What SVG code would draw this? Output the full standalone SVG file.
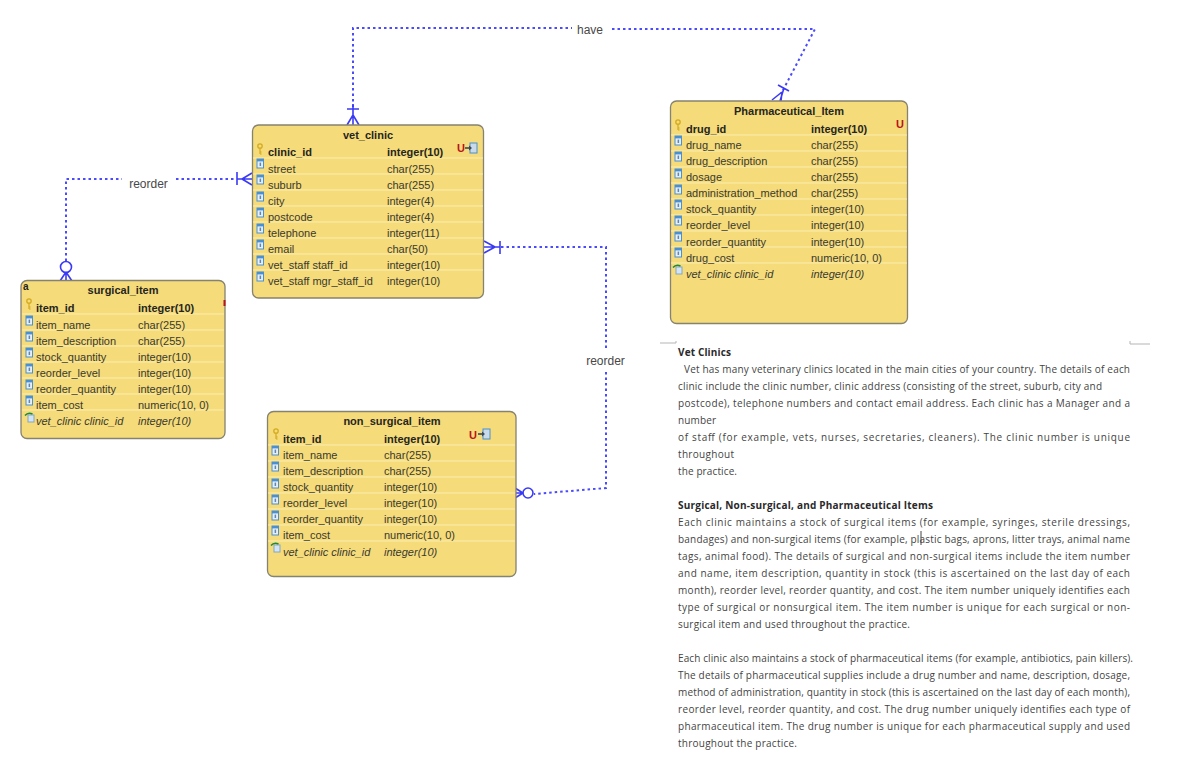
<svg xmlns="http://www.w3.org/2000/svg" width="1197" height="771" viewBox="0 0 1197 771">
<style>
text{font-family:"Liberation Sans",Arial,sans-serif;font-size:11px;fill:#3a3a30}
.box{fill:#f5db7a;stroke:#85826f;stroke-width:1.3}
.sep{stroke:#fbeeb0;stroke-width:1;fill:none}
.t{font-weight:bold;text-anchor:middle;fill:#26261e}
.b{font-weight:bold;fill:#26261e}
.i{font-style:italic}
.u{font-weight:bold;font-size:11px;fill:#b8141c}
.rel{fill:none;stroke:#4a4aff;stroke-width:2;stroke-dasharray:2.5 3}
.end{fill:none;stroke:#3a3af5;stroke-width:1.6}
.lab{font-size:12px;fill:#484848;text-anchor:middle}
.doc{font-family:"Open Sans","Noto Sans",sans-serif;font-size:10px;fill:#444}
.dh{font-family:"Open Sans","Noto Sans",sans-serif;font-size:10px;font-weight:bold;fill:#2a2a2a}
</style>
<defs>
<g id="col"><rect x="0" y="0" width="6.500" height="9" fill="#e6eef6" stroke="#4a8fd0" stroke-width="1"/><rect x="0" y="0" width="6.500" height="2.400" fill="#4a8fd0"/><rect x="2.600" y="3.600" width="1.500" height="3.400" fill="#5c86b4"/></g>
<g id="fk"><rect x="2" y="2" width="6" height="7" fill="#d5e4f2" stroke="#7fa8cc" stroke-width="1"/><path d="M-1 2.500Q2 -1 6.500 1" fill="none" stroke="#1f8a3a" stroke-width="1.500"/></g>
<g id="key"><circle cx="0" cy="0" r="2.200" fill="none" stroke="#d4ab1e" stroke-width="1.300"/><path d="M0 2V8M0 6H1.600M0 8H1.600" fill="none" stroke="#d4ab1e" stroke-width="1.200"/></g>
<g id="exp"><path d="M-7 0H-1" stroke="#3a4a5a" stroke-width="1.600" fill="none"/><rect x="-2" y="-5" width="7" height="10" fill="#c9dbea" stroke="#4a90cc" stroke-width="1"/><path d="M-3 -2.500L0 0L-3 2.500Z" fill="#3a4a5a"/></g>
</defs>

<g id="connectors">
<path class="rel" d="M353 107V28H572"/>
<path class="rel" d="M612 29H815L781 94"/>
<path class="rel" d="M66 261V179H122"/>
<path class="rel" d="M176 179H236"/>
<path class="rel" d="M501 247H606V350"/>
<path class="rel" d="M606 372V488L534 494"/>
<path class="end" d="M347 109H359M353 104V125M353 115L347 125M353 115L359 125"/>
<path class="end" d="M237 172V185M237 179H252M242 179L252 173M242 179L252 185"/>
<path class="end" d="M500 241V254M484 247H500M495 247L484 241M495 247L484 253"/>
<circle class="end" cx="528" cy="493" r="5"/>
<path class="end" d="M523 493H516M523 493L515 488M523 493L515 498"/>
<circle class="end" cx="66" cy="267" r="5.500"/>
<path class="end" d="M66 272V281M66 272L60 281M66 272L72 281"/>
<path class="end" d="M778 85L789 91M784 88L780 101M782 92L772 100M782 92L781 101"/>
<text class="lab" x="590" y="34">have</text>
<text class="lab" x="148.500" y="188">reorder</text>
<text class="lab" x="605.500" y="365">reorder</text>
</g>

<g id="vet_clinic">
<rect class="box" x="252.500" y="125" width="231" height="173" rx="6"/>
<path class="sep" d="M253 158H483M253 174H483M253 190H483M253 206H483M253 222H483M253 238H483M253 254H483M253 270H483"/>
<text class="t" x="368" y="139">vet_clinic</text>
<use href="#key" x="260" y="146"/>
<text class="b" x="268" y="156">clinic_id</text><text class="b" x="387" y="156">integer(10)</text>
<text class="u" x="457" y="152">U</text><use href="#exp" x="472" y="148"/>
<use href="#col" x="257" y="159"/><text x="268" y="173">street</text><text x="387" y="173">char(255)</text>
<use href="#col" x="257" y="175"/><text x="268" y="189">suburb</text><text x="387" y="189">char(255)</text>
<use href="#col" x="257" y="192"/><text x="268" y="205">city</text><text x="387" y="205">integer(4)</text>
<use href="#col" x="257" y="208"/><text x="268" y="221">postcode</text><text x="387" y="221">integer(4)</text>
<use href="#col" x="257" y="224"/><text x="268" y="237">telephone</text><text x="387" y="237">integer(11)</text>
<use href="#col" x="257" y="240"/><text x="268" y="253">email</text><text x="387" y="253">char(50)</text>
<use href="#col" x="257" y="256"/><text x="268" y="269">vet_staff staff_id</text><text x="387" y="269">integer(10)</text>
<use href="#col" x="257" y="272"/><text x="268" y="285">vet_staff mgr_staff_id</text><text x="387" y="285">integer(10)</text>
</g>

<g id="surgical_item">
<rect class="box" x="21" y="280.500" width="204" height="158" rx="6"/>
<path class="sep" d="M22 314H224M22 330H224M22 346H224M22 362H224M22 378H224M22 394H224M22 410H224"/>
<text class="b" x="23" y="290" style="font-size:10px">a</text>
<text class="t" x="123" y="294">surgical_item</text>
<use href="#key" x="29" y="301"/>
<text class="b" x="36" y="312">item_id</text><text class="b" x="138" y="312">integer(10)</text>
<rect x="223.500" y="300" width="2" height="6" fill="#b8141c"/>
<use href="#col" x="26" y="316"/><text x="36" y="329">item_name</text><text x="138" y="329">char(255)</text>
<use href="#col" x="26" y="332"/><text x="36" y="345">item_description</text><text x="138" y="345">char(255)</text>
<use href="#col" x="26" y="348"/><text x="36" y="361">stock_quantity</text><text x="138" y="361">integer(10)</text>
<use href="#col" x="26" y="364"/><text x="36" y="377">reorder_level</text><text x="138" y="377">integer(10)</text>
<use href="#col" x="26" y="380"/><text x="36" y="393">reorder_quantity</text><text x="138" y="393">integer(10)</text>
<use href="#col" x="26" y="396"/><text x="36" y="409">item_cost</text><text x="138" y="409">numeric(10, 0)</text>
<use href="#fk" x="26" y="413"/><text class="i" x="36" y="425">vet_clinic clinic_id</text><text class="i" x="138" y="425">integer(10)</text>
</g>

<g id="non_surgical_item">
<rect class="box" x="267.500" y="411.500" width="248.500" height="165" rx="6"/>
<path class="sep" d="M268 445H515M268 461H515M268 477H515M268 493H515M268 509H515M268 525H515M268 541H515"/>
<text class="t" x="392" y="425">non_surgical_item</text>
<use href="#key" x="276" y="431"/>
<text class="b" x="283" y="443">item_id</text><text class="b" x="384" y="443">integer(10)</text>
<text class="u" x="469" y="439">U</text><use href="#exp" x="485" y="434"/>
<use href="#col" x="272" y="446"/><text x="283" y="459">item_name</text><text x="384" y="459">char(255)</text>
<use href="#col" x="272" y="462"/><text x="283" y="475">item_description</text><text x="384" y="475">char(255)</text>
<use href="#col" x="272" y="479"/><text x="283" y="491">stock_quantity</text><text x="384" y="491">integer(10)</text>
<use href="#col" x="272" y="495"/><text x="283" y="507">reorder_level</text><text x="384" y="507">integer(10)</text>
<use href="#col" x="272" y="511"/><text x="283" y="523">reorder_quantity</text><text x="384" y="523">integer(10)</text>
<use href="#col" x="272" y="526"/><text x="283" y="539">item_cost</text><text x="384" y="539">numeric(10, 0)</text>
<use href="#fk" x="272" y="543"/><text class="i" x="283" y="556">vet_clinic clinic_id</text><text class="i" x="384" y="556">integer(10)</text>
</g>

<g id="Pharmaceutical_Item">
<rect class="box" x="670.500" y="101" width="237" height="222.500" rx="6"/>
<path class="sep" d="M671 135H907M671 151H907M671 167H907M671 183H907M671 199H907M671 215H907M671 231H907M671 247H907M671 263H907"/>
<text class="t" x="789" y="115">Pharmaceutical_Item</text>
<use href="#key" x="678" y="122"/>
<text class="b" x="686" y="133">drug_id</text><text class="b" x="811" y="133">integer(10)</text>
<text class="u" x="896" y="128">U</text>
<use href="#col" x="675" y="136"/><text x="686" y="149">drug_name</text><text x="811" y="149">char(255)</text>
<use href="#col" x="675" y="152"/><text x="686" y="165">drug_description</text><text x="811" y="165">char(255)</text>
<use href="#col" x="675" y="169"/><text x="686" y="181">dosage</text><text x="811" y="181">char(255)</text>
<use href="#col" x="675" y="185"/><text x="686" y="197">administration_method</text><text x="811" y="197">char(255)</text>
<use href="#col" x="675" y="200"/><text x="686" y="213">stock_quantity</text><text x="811" y="213">integer(10)</text>
<use href="#col" x="675" y="216"/><text x="686" y="229">reorder_level</text><text x="811" y="229">integer(10)</text>
<use href="#col" x="675" y="232"/><text x="686" y="246">reorder_quantity</text><text x="811" y="246">integer(10)</text>
<use href="#col" x="675" y="248"/><text x="686" y="262">drug_cost</text><text x="811" y="262">numeric(10, 0)</text>
<use href="#fk" x="674" y="265"/><text class="i" x="686" y="278">vet_clinic clinic_id</text><text class="i" x="811" y="278">integer(10)</text>
</g>

<g id="document">
<path d="M660 343H676V341M1150 344H1130V341" fill="none" stroke="#b5b5b5" stroke-width="1"/>
<path d="M921 531V545" stroke="#444" stroke-width="1"/>
<text class="dh" x="678" y="356" textLength="53">Vet Clinics</text>
<text class="doc" x="684" y="373" textLength="446">Vet has many veterinary clinics located in the main cities of your country. The details of each</text>
<text class="doc" x="678" y="390" textLength="424">clinic include the clinic number, clinic address (consisting of the street, suburb, city and</text>
<text class="doc" x="678" y="407" textLength="452">postcode), telephone numbers and contact email address. Each clinic has a Manager and a</text>
<text class="doc" x="678" y="424" textLength="38">number</text>
<text class="doc" x="678" y="441" textLength="452">of staff (for example, vets, nurses, secretaries, cleaners). The clinic number is unique</text>
<text class="doc" x="678" y="458" textLength="56">throughout</text>
<text class="doc" x="678" y="475" textLength="59">the practice.</text>
<text class="dh" x="678" y="509" textLength="255">Surgical, Non-surgical, and Pharmaceutical Items</text>
<text class="doc" x="678" y="526" textLength="452">Each clinic maintains a stock of surgical items (for example, syringes, sterile dressings,</text>
<text class="doc" x="678" y="543" textLength="452">bandages) and non-surgical items (for example, plastic bags, aprons, litter trays, animal name</text>
<text class="doc" x="678" y="560" textLength="452">tags, animal food). The details of surgical and non-surgical items include the item number</text>
<text class="doc" x="678" y="577" textLength="452">and name, item description, quantity in stock (this is ascertained on the last day of each</text>
<text class="doc" x="678" y="594" textLength="452">month), reorder level, reorder quantity, and cost. The item number uniquely identifies each</text>
<text class="doc" x="678" y="611" textLength="452">type of surgical or nonsurgical item. The item number is unique for each surgical or non-</text>
<text class="doc" x="678" y="628" textLength="232">surgical item and used throughout the practice.</text>
<text class="doc" x="678" y="662" textLength="455">Each clinic also maintains a stock of pharmaceutical items (for example, antibiotics, pain killers).</text>
<text class="doc" x="678" y="679" textLength="452">The details of pharmaceutical supplies include a drug number and name, description, dosage,</text>
<text class="doc" x="678" y="696" textLength="452">method of administration, quantity in stock (this is ascertained on the last day of each month),</text>
<text class="doc" x="678" y="713" textLength="452">reorder level, reorder quantity, and cost. The drug number uniquely identifies each type of</text>
<text class="doc" x="678" y="730" textLength="452">pharmaceutical item. The drug number is unique for each pharmaceutical supply and used</text>
<text class="doc" x="678" y="747" textLength="119">throughout the practice.</text>
</g>
</svg>
